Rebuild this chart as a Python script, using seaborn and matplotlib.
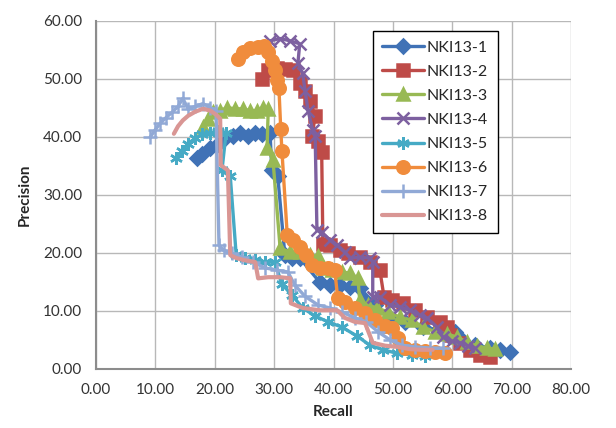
import pandas as pd
import matplotlib
matplotlib.use("Agg")
import matplotlib.pyplot as plt
import seaborn as sns

# recall / precision pairs
nki1_x = [17.0, 17.8, 19.2, 20.5, 21.7, 23.1, 24.2, 25.6, 26.8, 27.9, 29.3, 29.6, 30.6, 31.8, 33.0,
          34.3, 37.7, 39.4, 41.1, 42.8, 44.4, 45.3, 47.0, 49.5, 52.0, 55.1, 57.9, 60.4, 61.6, 63.8,
          66.3, 68.0, 69.7]
nki1_y = [36.3, 37.1, 38.0, 38.8, 39.7, 40.2, 40.7, 40.2, 40.7, 40.5, 40.7, 34.2, 33.2, 19.6, 19.1,
          19.1, 14.9, 14.4, 14.4, 14.1, 13.9, 11.9, 11.0, 8.8, 8.1, 7.2, 6.7, 6.4, 5.0, 4.1,
          3.6, 3.3, 2.9]

nki2_x = [27.9, 29.0, 30.5, 31.8, 33.2, 34.3, 35.2, 36.0, 36.9, 36.4, 37.4, 38.0, 38.2, 39.4, 41.1,
          42.4, 44.4, 46.1, 47.8, 48.5, 49.8, 51.7, 53.7, 55.7, 57.9, 59.1, 59.6, 61.3, 63.0, 64.6,
          66.3]
nki2_y = [50.0, 51.4, 51.9, 51.7, 51.4, 49.3, 47.9, 46.2, 43.6, 40.2, 39.3, 37.3, 21.6, 21.3, 20.4,
          19.9, 19.2, 18.4, 17.0, 12.4, 11.9, 11.3, 10.1, 8.9, 8.1, 7.2, 5.8, 4.5, 3.3, 2.4,
          2.1]

nki3_x = [18.0, 18.9, 19.7, 20.9, 22.1, 23.4, 24.7, 25.9, 27.1, 28.1, 29.0, 28.8, 29.8, 31.0, 32.7,
          34.3, 36.0, 37.4, 38.2, 39.7, 41.4, 42.8, 44.1, 44.4, 45.8, 47.3, 49.2, 51.2, 53.2, 55.1,
          57.1, 59.1, 60.8, 62.5, 64.1, 65.8, 67.2]
nki3_y = [41.6, 43.1, 44.2, 44.5, 45.0, 44.8, 44.8, 44.5, 44.5, 45.0, 44.8, 38.1, 35.9, 20.8, 20.1,
          20.1, 19.6, 19.4, 17.4, 17.0, 16.7, 16.5, 15.6, 11.9, 11.0, 10.5, 9.8, 8.9, 8.4, 7.2,
          6.4, 6.0, 5.5, 4.6, 4.0, 3.6, 3.4]

nki4_x = [29.3, 31.0, 32.7, 34.3, 34.0, 34.8, 35.2, 35.7, 36.5, 36.9, 37.2, 38.0, 39.4, 40.6, 41.9,
          42.8, 44.4, 46.1, 46.6, 46.6, 47.8, 49.5, 51.2, 52.9, 54.5, 55.7, 57.4, 58.4, 59.9, 61.3,
          62.6, 63.8]
nki4_y = [56.5, 56.9, 56.5, 56.0, 52.7, 50.9, 47.9, 44.5, 41.1, 40.2, 23.9, 23.5, 22.2, 21.3, 20.1,
          19.1, 19.2, 19.1, 18.4, 12.4, 12.4, 11.0, 10.7, 10.1, 9.3, 8.8, 7.2, 5.5, 4.8, 4.5,
          4.0, 3.6]

nki5_x = [13.5, 14.5, 15.5, 16.7, 17.8, 19.2, 20.5, 21.9, 21.2, 22.6, 23.6, 25.1, 26.8, 28.5, 30.1,
          31.3, 33.0, 34.8, 36.9, 39.1, 41.4, 43.9, 46.1, 48.3, 50.7, 53.2, 55.4]
nki5_y = [36.4, 37.6, 38.8, 39.7, 40.4, 40.7, 40.9, 40.7, 34.2, 33.2, 19.6, 19.1, 18.7, 18.4, 18.4,
          14.6, 12.7, 10.5, 9.1, 8.1, 7.2, 5.7, 4.1, 3.3, 2.7, 2.4, 2.2]

nki6_x = [23.9, 24.7, 25.9, 27.3, 28.3, 29.0, 29.6, 30.1, 30.5, 30.8, 31.1, 31.3, 32.2, 33.2, 34.3,
          35.4, 36.4, 37.7, 39.1, 40.2, 40.7, 41.9, 43.6, 45.3, 47.0, 48.7, 49.8, 50.8, 52.0, 53.7,
          55.4, 57.1, 58.8]
nki6_y = [53.4, 54.5, 55.2, 55.5, 55.7, 54.5, 53.1, 51.4, 49.7, 48.3, 41.4, 37.6, 23.0, 22.2, 21.0,
          19.6, 17.9, 17.4, 17.4, 17.0, 12.2, 11.5, 10.5, 9.6, 8.4, 7.4, 7.0, 5.3, 3.6, 3.3,
          3.1, 2.9, 2.7]

nki7_x = [9.1, 9.9, 10.8, 11.8, 12.8, 13.8, 14.6, 15.5, 16.7, 18.0, 19.2, 20.2, 20.7, 21.5, 22.9,
          24.6, 26.4, 28.5, 30.5, 32.3, 33.5, 35.2, 37.4, 39.4, 41.4, 43.6, 45.5, 47.5, 49.5, 51.5,
          53.7, 56.2, 58.4]
nki7_y = [39.9, 41.1, 42.3, 43.3, 44.2, 45.2, 46.6, 44.8, 45.2, 45.7, 45.0, 44.5, 21.3, 20.4, 19.9,
          19.2, 18.4, 17.4, 17.0, 16.7, 14.4, 12.5, 11.0, 10.5, 9.8, 8.8, 8.1, 6.4, 5.0, 4.1,
          3.8, 3.6, 3.6]

nki8_x = [13.1, 13.8, 14.6, 15.5, 16.7, 18.0, 19.2, 20.2, 20.9, 21.0, 22.2, 22.6, 23.6, 25.1, 26.8,
          27.3, 29.0, 31.0, 32.7, 32.8, 34.8, 37.7, 40.6, 41.9, 43.6, 45.3, 46.6, 48.7, 50.7, 52.9,
          54.9, 56.7]
nki8_y = [40.5, 41.8, 42.8, 43.6, 44.3, 44.8, 44.5, 43.8, 43.1, 35.1, 34.2, 19.6, 19.1, 18.7, 18.4,
          15.6, 15.8, 15.8, 15.6, 11.3, 10.5, 10.1, 10.1, 8.8, 8.1, 7.9, 4.5, 4.0, 3.8, 3.4,
          3.3, 3.3]

names = ["NKI13-1", "NKI13-2", "NKI13-3", "NKI13-4", "NKI13-5", "NKI13-6", "NKI13-7", "NKI13-8"]
xs = [nki1_x, nki2_x, nki3_x, nki4_x, nki5_x, nki6_x, nki7_x, nki8_x]
ys = [nki1_y, nki2_y, nki3_y, nki4_y, nki5_y, nki6_y, nki7_y, nki8_y]

colors = ["#4072B6", "#BE4B48", "#98B954", "#7D60A0", "#46AAC5", "#F08C3C", "#91A9D6", "#D99694"]
markers = ["D", "s", "^", "x", (6, 2, 0), "o", "+", ""]
msizes = [7, 8, 8, 8, 9, 9, 10, 0]
widths = [2.4, 2.4, 2.4, 2.4, 2.4, 2.4, 2.4, 3.0]

sns.set_style("whitegrid")
plt.rcParams["font.family"] = ["Lato", "DejaVu Sans"]

fig = plt.figure(figsize=(6.16, 4.28), dpi=100)
ax = fig.add_axes([0.156, 0.138, 0.771, 0.814])

for name, x, y, c, m, ms, lw in zip(names, xs, ys, colors, markers, msizes, widths):
    df = pd.DataFrame({"Recall": x, "Precision": y})
    sns.lineplot(data=df, x="Recall", y="Precision", sort=False, estimator=None,
                 color=c, linewidth=lw, marker=m if m else None, markersize=ms,
                 markeredgecolor=c, markeredgewidth=1.8, label=name, ax=ax)

ax.set_xlim(0, 80)
ax.set_ylim(0, 60)
ax.set_xticks(range(0, 81, 10))
ax.set_yticks(range(0, 61, 10))
ax.set_xticklabels([f"{v:.2f}" for v in range(0, 81, 10)])
ax.set_yticklabels([f"{v:.2f}" for v in range(0, 61, 10)])
ax.tick_params(axis="both", labelsize=11, colors="#333333", length=0, pad=10)
ax.grid(color="#B8B8B8", linewidth=1.0)
for s in ["top", "right"]:
    ax.spines[s].set_visible(False)
for s in ["left", "bottom"]:
    ax.spines[s].set_color("#8C8C8C")
    ax.spines[s].set_linewidth(1.5)

ax.set_xlabel("Recall", fontsize=11, fontweight="bold", labelpad=6)
ax.set_ylabel("Precision", fontsize=11, fontweight="bold", labelpad=8)

leg = ax.legend(loc="upper left", bbox_to_anchor=(0.582, 0.97), frameon=True, fancybox=False,
                fontsize=11.5, handlelength=2.6, labelspacing=0.62, borderpad=0.6,
                handletextpad=0.2, borderaxespad=0)
leg.get_frame().set_edgecolor("black")
leg.get_frame().set_linewidth(1.0)
leg.get_frame().set_alpha(1)

plt.savefig("out.png", dpi=100)
